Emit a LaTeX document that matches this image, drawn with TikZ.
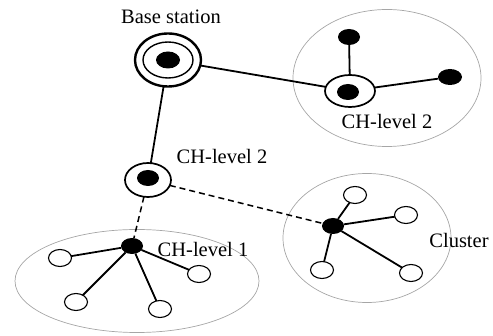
\documentclass[tikz,border=0pt]{standalone}
\usepackage{fontspec}
\setmainfont{Liberation Serif}
\usetikzlibrary{shapes.geometric}
\begin{document}
\begin{tikzpicture}[x=1pt,y=-1pt,
  every node/.style={inner sep=0pt,outer sep=0pt},
  zone/.style={ellipse,draw=black!35,line width=0.7pt},
  dot/.style={ellipse,fill=black,minimum width=22pt,minimum height=16pt},
  leaf/.style={ellipse,draw=black,line width=1.1pt,fill=white,minimum width=23pt,minimum height=17pt},
  ring/.style={ellipse,draw=black,line width=1.7pt,fill=white},
  link/.style={draw=black,line width=1.8pt},
  dlink/.style={draw=black,line width=1.5pt,dash pattern=on 6pt off 4pt},
  lbl/.style={font=\fontsize{20.5}{22}\selectfont}]
\useasboundingbox (0,0) rectangle (493,336);

% cluster areas
\node[zone,minimum width=188pt,minimum height=137pt] (zoneTR) at (387,78) {};
\node[zone,minimum width=244pt,minimum height=103pt] (zoneBL) at (137,281) {};
\node[zone,minimum width=168pt,minimum height=129pt] (zoneBR) at (367,238) {};

% base station
\node[ellipse,draw=black,line width=2.4pt,fill=white,minimum width=66pt,minimum height=53pt] (bs) at (168,60) {};
\node[ellipse,draw=black,line width=1.4pt,minimum width=50pt,minimum height=36pt] (bsin) at (168,60) {};
\node[dot,minimum width=24pt,minimum height=17pt] (bsdot) at (168,60) {};
\node[lbl] (bslbl) at (171,17) {Base station};

% level-2 cluster head (upper right)
\node[ring,minimum width=50pt,minimum height=32pt] (ch2a) at (350,91) {};
\node[dot] (ch2adot) at (348,92) {};
\node[dot] (n1) at (349,37) {};
\node[dot,minimum width=24pt] (n2) at (450,77) {};
\node[lbl] (ch2albl) at (387,121) {CH-level 2};

% level-2 cluster head (middle)
\node[ring,minimum width=46pt,minimum height=34pt] (ch2b) at (148,180) {};
\node[dot] (ch2bdot) at (148,178) {};
\node[lbl] (ch2blbl) at (222,156) {CH-level 2};

% level-1 cluster head (lower left)
\node[dot] (ch1) at (132,246) {};
\node[leaf] (a1) at (60,258) {};
\node[leaf] (a2) at (199,274) {};
\node[leaf] (a3) at (76,302) {};
\node[leaf] (a4) at (160,309) {};
\node[lbl] (ch1lbl) at (203,249) {CH-level 1};

% cluster (lower right)
\node[dot] (cl) at (333,226) {};
\node[leaf] (b1) at (355,195) {};
\node[leaf] (b2) at (406,215) {};
\node[leaf] (b3) at (322,270) {};
\node[leaf] (b4) at (411,273) {};
\node[lbl] (cllbl) at (459,240) {Cluster};

% links
\draw[link] (bs) -- (ch2a);
\draw[link] (bs) -- (ch2b);
\draw[link] (n1) -- (ch2a);
\draw[link] (ch2a) -- (n2);
\draw[dlink] (ch2b) -- (cl);
\draw[dlink] (ch2b) -- (ch1);
\foreach \t in {a1,a2,a3,a4} \draw[link] (ch1) -- (\t);
\foreach \t in {b1,b2,b3,b4} \draw[link] (cl) -- (\t);
\end{tikzpicture}
\end{document}
